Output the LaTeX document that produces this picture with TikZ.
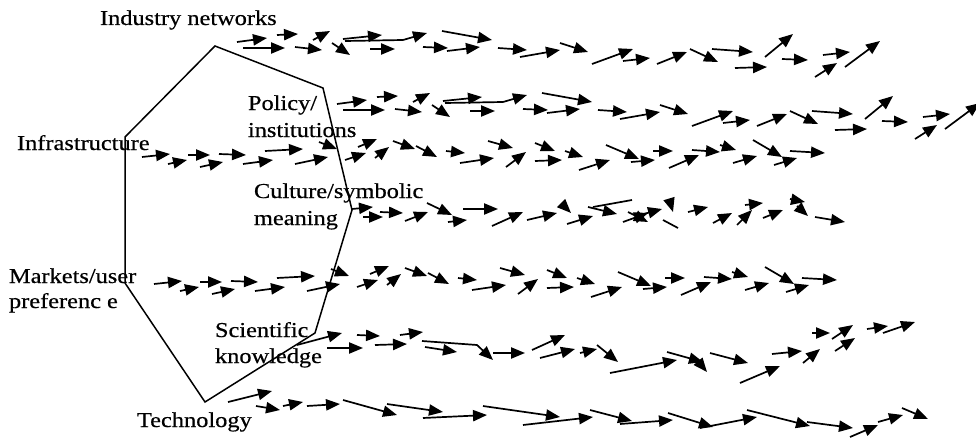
\documentclass[tikz,border=0pt]{standalone}
\usepackage{fontspec}
\setmainfont{Liberation Serif}[FakeStretch=1.15, FakeBold=0.5]
\usetikzlibrary{arrows.meta}

% one unit = one pixel of the 976 x 439 canvas, y running downwards
\tikzset{
  flow/.style={line width=0.85pt, -{Triangle[length=7pt,width=5.6pt]}},
  plainflow/.style={line width=0.85pt},
  frame/.style={line width=0.75pt, line join=miter},
  lab/.style={anchor=base west, inner sep=0pt, outer sep=0pt,
              font=\fontsize{10.6}{13.5}\selectfont, text=black},
}

% drift of arrows shared by the two upper bands
\newcommand\upperdrift{%
  \foreach \a/\b/\c/\d in {237/42/267/38, 243/48/285/48, 277/35/298/34,
      295/47/322/50, 313/40/330/31, 332/43/350/55, 343/39/382/35,
      370/49/395/49, 423/47/448/48, 447/51/480/47, 442/31/492/40,
      498/48/527/50, 520/57/560/50, 560/43/588/52, 592/64/633/49,
      623/61/650/58, 657/64/687/52, 690/49/718/62, 712/49/753/52,
      735/68/767/67, 765/57/793/34, 782/59/808/60, 823/55/850/52,
      815/77/837/63, 845/67/880/41}
    {\draw[flow] (\a,\b) -- (\c,\d);}
  \draw[flow] (345,41) -- (403,40) -- (427,33);
}

% drift of arrows shared by the infrastructure and market bands
\newcommand\sidedrift{%
  \foreach \a/\b/\c/\d in {142/157/170/154, 168/164/187/160, 188/155/210/155,
      200/167/223/162, 219/154/246/155, 243/164/273/160, 265/151/303/149,
      295/164/328/157, 319/142/337/149, 345/160/366/153, 358/147/377/139,
      375/158/389/147, 393/141/415/149, 416/146/437/157, 446/151/465/153,
      460/163/494/158, 488/141/513/148, 506/167/526/152, 535/143/555/151,
      535/161/562/160, 565/151/583/157, 579/170/610/160, 606/145/639/159,
      631/162/655/160, 653/151/673/151, 669/168/699/155, 692/150/720/152,
      720/145/736/150, 733/163/757/156, 753/140/782/157, 774/165/797/158,
      790/151/825/153}
    {\draw[flow] (\a,\b) -- (\c,\d);}
}

\begin{document}
\begin{tikzpicture}[x=0.5pt, y=-0.5pt]
  \fill[white] (0,0) rectangle (976,439);
  \useasboundingbox (0,0) rectangle (976,439);

  % the regime as a seven-sided outline
  \draw[frame] (215,46) -- (323,88) -- (352,210) -- (315,333)
               -- (205,402) -- (125,283) -- (125,137) -- cycle;

  % dimension labels
  \node[lab] (ind)  at (100,25)  {Industry networks};
  \node[lab] (pol1) at (248,110) {Policy/};
  \node[lab] (pol2) at (248,137) {institutions};
  \node[lab] (inf)  at (17,150)  {Infrastructure};
  \node[lab] (cul1) at (254,198) {Culture/symbolic};
  \node[lab] (cul2) at (254,225) {meaning};
  \node[lab] (mar1) at (9,283)   {Markets/user};
  \node[lab] (mar2) at (9,308)   {preferenc\hspace{3pt}e};
  \node[lab] (sci1) at (215,337) {Scientific};
  \node[lab] (sci2) at (215,363) {knowledge};
  \node[lab] (tec)  at (137,427) {Technology};

  % industry networks and policy bands
  \upperdrift
  \begin{scope}[shift={(100,62)}]
    \upperdrift
  \end{scope}

  % infrastructure and market bands
  \sidedrift
  \begin{scope}[shift={(12,127)}]
    \sidedrift
  \end{scope}

  % culture band
  \foreach \a/\b/\c/\d in {352/209/373/207, 363/217/383/217, 380/212/403/213,
      405/221/428/212, 427/203/452/215, 448/222/467/220, 463/209/498/209,
      492/226/523/212, 527/220/557/213, 562/204/571/213, 567/224/593/216,
      588/207/617/214, 623/222/648/213, 628/212/648/222, 640/215/662/209,
      670/202/673/212, 688/212/708/207, 713/223/732/213, 737/225/752/210,
      745/205/763/203, 763/218/783/210, 790/199/805/202, 797/206/808/216,
      815/217/845/222}
    {\draw[flow] (\a,\b) -- (\c,\d);}
  \draw[plainflow] (593,207) -- (632,200);
  \draw[plainflow] (663,220) -- (678,228);

  % scientific knowledge band
  \foreach \a/\b/\c/\d in {297/345/342/333, 327/348/363/348, 357/335/380/336,
      375/345/407/344, 400/335/423/332, 425/347/457/352, 493/353/525/353,
      532/350/565/335, 540/358/575/349, 580/353/597/349, 597/345/618/362,
      610/373/677/360, 667/352/703/362, 697/360/707/372, 710/353/748/363,
      740/383/780/366, 772/354/802/351, 803/363/820/349, 812/333/830/333,
      832/339/853/325, 835/351/855/338, 867/329/888/326, 883/333/915/322}
    {\draw[flow] (\a,\b) -- (\c,\d);}
  \draw[flow] (422,341) -- (477,345) -- (493,360);

  % technology band
  \foreach \a/\b/\c/\d in {228/402/272/391, 256/406/280/410, 283/406/303/402,
      307/406/340/404, 343/400/397/415, 387/404/443/412, 423/418/487/415,
      483/406/560/417, 523/425/593/417, 590/410/632/421, 620/424/673/420,
      668/413/713/427, 700/428/757/417, 747/410/810/426, 807/422/853/428,
      850/437/878/425, 878/422/903/415, 902/408/928/419}
    {\draw[flow] (\a,\b) -- (\c,\d);}
\end{tikzpicture}
\end{document}
